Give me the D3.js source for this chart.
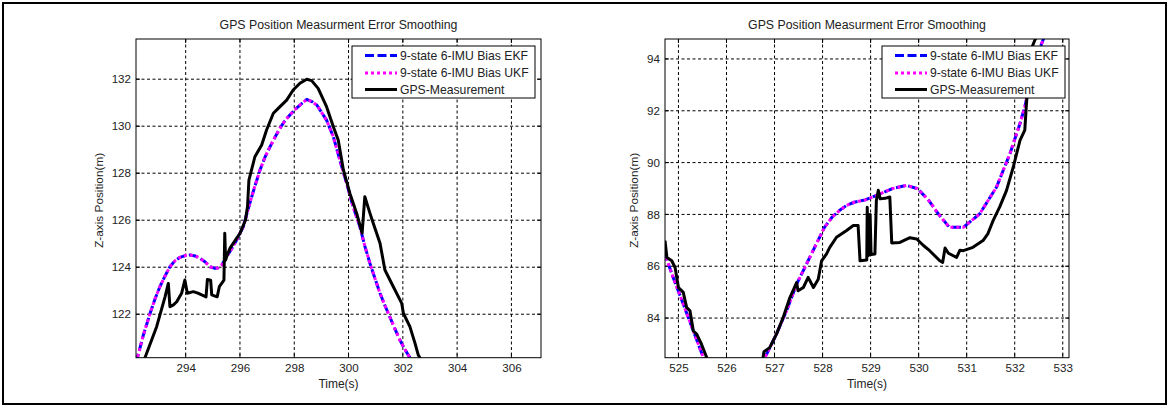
<!DOCTYPE html>
<html><head><meta charset="utf-8">
<script src="https://cdn.jsdelivr.net/npm/d3@7"></script>
<style>
html,body{margin:0;padding:0;background:#fff;}
svg text{font-family:"Liberation Sans",Arial,Helvetica,sans-serif;fill:#222;}
</style></head>
<body><svg id="c" width="1169" height="407"></svg>
<script>
// ---------- data ----------
const titleText = "GPS Position Measurment Error Smoothing";
const xLabelText = "Time(s)";
const yLabelText = "Z-axis Position(m)";
const seriesNames = ["9-state 6-IMU Bias EKF", "9-state 6-IMU Bias UKF", "GPS-Measurement"];

// left panel
const leftXDomain = [292.17, 307.09];
const leftYDomain = [120.15, 133.71];
const leftXTicks = [294, 296, 298, 300, 302, 304, 306];
const leftYTicks = [122, 124, 126, 128, 130, 132];
const leftFilterT = [292.15,292.22,292.45,292.69,292.87,293.05,293.25,293.42,293.6,293.79,294.0,294.16,294.35,294.53,294.72,294.9,295.08,295.2,295.33,295.51,295.7,295.88,296.12,296.37,296.55,296.74,296.92,297.11,297.3,297.47,297.65,297.84,298.02,298.21,298.46,298.65,298.83,299.0,299.19,299.44,299.68,299.93,300.17,300.42,300.6,300.79,300.98,301.16,301.34,301.52,301.7,301.89,302.08,302.26,302.4];
const leftEkfY = [119.95,120.15,121.15,122.04,122.65,123.17,123.65,124.02,124.27,124.42,124.5,124.52,124.48,124.38,124.22,124.02,123.95,123.98,124.09,124.45,124.8,125.16,125.72,126.75,127.45,128.14,128.68,129.13,129.55,129.91,130.22,130.48,130.7,130.9,131.14,131.05,130.9,130.6,130.26,129.55,128.56,127.57,126.57,125.72,124.9,124.16,123.5,122.89,122.37,121.89,121.4,120.9,120.5,120.15,119.8];
const leftUkfY = [119.95,120.15,121.15,122.04,122.65,123.17,123.65,124.02,124.27,124.42,124.5,124.52,124.48,124.38,124.22,124.02,123.95,123.98,124.09,124.45,124.8,125.16,125.72,126.75,127.45,128.14,128.68,129.13,129.55,129.91,130.22,130.48,130.7,130.9,131.14,131.05,130.9,130.6,130.26,129.55,128.56,127.57,126.57,125.72,124.9,124.16,123.5,122.89,122.37,121.89,121.4,120.9,120.5,120.15,119.8];
const leftGpsT = [292.4,292.5,292.93,293.24,293.36,293.42,293.55,293.67,293.85,293.97,294.06,294.28,294.45,294.59,294.75,294.8,294.92,294.96,295.16,295.24,295.41,295.44,295.47,295.51,295.63,295.8,296.0,296.2,296.28,296.33,296.55,296.8,296.98,297.23,297.41,297.72,297.96,298.21,298.46,298.64,298.88,299.19,299.44,299.62,299.81,300.05,300.3,300.5,300.6,300.79,300.91,301.16,301.34,301.65,301.96,302.02,302.26,302.45,302.57,302.7,302.75];
const leftGpsY = [119.8,120.15,121.47,122.74,123.31,122.32,122.4,122.53,122.89,123.45,122.89,122.96,122.9,122.82,122.74,123.48,123.45,122.82,122.74,123.17,123.45,125.44,124.3,124.45,124.8,125.1,125.44,126.0,126.6,127.71,128.7,129.2,129.84,130.55,130.76,131.11,131.54,131.83,132.0,131.94,131.61,130.83,129.98,129.41,128.14,127.14,126.29,125.45,127.0,126.29,125.87,125.02,123.88,123.17,122.46,122.04,121.47,120.76,120.26,120.0,119.8];

// right panel
const rightXDomain = [524.72, 533.13];
const rightYDomain = [82.47, 94.77];
const rightXTicks = [525, 526, 527, 528, 529, 530, 531, 532, 533];
const rightYTicks = [84, 86, 88, 90, 92, 94];
const rightFilterT = [524.7,524.89,525.1,525.31,525.52,525.6,526.72,526.8,527.04,527.25,527.46,527.67,527.88,528.04,528.2,528.35,528.5,528.66,528.89,529.12,529.44,529.75,529.98,530.21,530.41,530.64,530.93,531.27,531.62,531.9,532.11,532.21,532.35,532.5,532.59,532.65];
const rightEkfY = [86.55,85.57,84.54,83.5,82.47,82.1,82.2,82.47,83.38,84.28,85.31,86.1,86.9,87.5,87.9,88.15,88.35,88.47,88.56,88.73,88.99,89.12,88.99,88.54,88.02,87.5,87.5,88.02,89.05,90.34,91.51,92.15,93.3,94.3,94.73,95.0];
const rightUkfY = [86.55,85.57,84.54,83.5,82.47,82.1,82.2,82.47,83.38,84.28,85.31,86.1,86.9,87.5,87.9,88.15,88.35,88.47,88.56,88.73,88.99,89.12,88.99,88.54,88.02,87.5,87.5,88.02,89.05,90.34,91.51,92.15,93.3,94.3,94.73,95.0];
const rightGpsT = [524.72,524.76,524.86,524.93,525.0,525.1,525.17,525.24,525.31,525.38,525.48,525.59,525.65,526.7,526.76,526.78,526.9,527.04,527.18,527.32,527.46,527.49,527.6,527.7,527.81,527.91,527.98,528.08,528.15,528.29,528.5,528.64,528.74,528.78,528.92,528.93,528.95,528.97,528.99,529.01,529.09,529.12,529.16,529.2,529.3,529.4,529.44,529.61,529.82,529.96,530.1,530.23,530.44,530.5,530.55,530.62,530.79,530.86,530.93,531.13,531.34,531.44,531.51,531.55,531.69,531.83,531.97,532.11,532.21,532.24,532.28,532.31,532.42,532.5];
const rightGpsY = [86.99,86.34,86.21,85.95,85.18,84.99,84.41,84.28,83.5,83.38,82.99,82.47,82.1,82.1,82.47,82.7,82.86,83.38,84.02,84.79,85.37,85.05,85.18,85.57,85.18,85.5,86.21,86.47,86.73,87.12,87.38,87.57,87.57,86.21,86.24,88.28,86.4,86.47,88.0,86.45,86.47,88.54,88.93,88.6,88.62,88.67,86.9,86.92,87.1,87.05,86.8,86.6,86.21,86.15,86.7,86.5,86.34,86.62,86.6,86.73,86.99,87.25,87.57,87.76,88.3,88.93,89.83,90.86,91.25,92.15,93.18,94.22,94.73,95.0];

// ---------- drawing ----------
const svg = d3.select("#c");
svg.append("rect").attr("x",3).attr("y",3).attr("width",1163).attr("height",401)
  .attr("fill","none").attr("stroke","#000").attr("stroke-width",2);

const colors = ["#0000ff", "#ff00ff", "#000000"];
const dashes = ["9,3.5", "3,3", null];

function panel(cfg){
  const {x0,x1,y0,y1,xDom,yDom,xTicks,yTicks,fT,ekf,ukf,gT,gps,id,ylx,legX} = cfg;
  const w = x1-x0, h = y1-y0;
  const x = d3.scaleLinear().domain(xDom).range([0,w]);
  const y = d3.scaleLinear().domain(yDom).range([h,0]);
  const g = svg.append("g").attr("transform",`translate(${x0},${y0})`);
  g.append("rect").attr("width",w).attr("height",h).attr("fill","#fff");
  // grid
  g.append("g").selectAll("line").data(xTicks).join("line")
    .attr("x1",d=>x(d)).attr("x2",d=>x(d)).attr("y1",0).attr("y2",h)
    .attr("stroke","#000").attr("stroke-width",1).attr("stroke-dasharray","3,2.5");
  g.append("g").selectAll("line").data(yTicks).join("line")
    .attr("y1",d=>y(d)).attr("y2",d=>y(d)).attr("x1",0).attr("x2",w)
    .attr("stroke","#000").attr("stroke-width",1).attr("stroke-dasharray","3,2.5");
  // inward ticks
  const tk = g.append("g").attr("stroke","#000").attr("stroke-width",1);
  xTicks.forEach(d=>{
    tk.append("line").attr("x1",x(d)).attr("x2",x(d)).attr("y1",h).attr("y2",h-4);
    tk.append("line").attr("x1",x(d)).attr("x2",x(d)).attr("y1",0).attr("y2",4);
  });
  yTicks.forEach(d=>{
    tk.append("line").attr("y1",y(d)).attr("y2",y(d)).attr("x1",0).attr("x2",4);
    tk.append("line").attr("y1",y(d)).attr("y2",y(d)).attr("x1",w).attr("x2",w-4);
  });
  // axes labels
  const ax = g.append("g").attr("transform",`translate(0,${h})`)
    .call(d3.axisBottom(x).tickValues(xTicks).tickSize(0).tickPadding(6).tickFormat(d3.format("d")));
  ax.select(".domain").remove();
  ax.selectAll("text").attr("font-size",11.6).attr("fill","#222");
  const ay = g.append("g")
    .call(d3.axisLeft(y).tickValues(yTicks).tickSize(0).tickPadding(5).tickFormat(d3.format("d")));
  ay.select(".domain").remove();
  ay.selectAll("text").attr("font-size",11.6).attr("fill","#222");
  // lines
  svg.append("clipPath").attr("id",id).append("rect").attr("width",w).attr("height",h);
  const lg = g.append("g").attr("clip-path",`url(#${id})`);
  const line = d3.line().x(d=>x(d[0])).y(d=>y(d[1]));
  const sets = [d3.zip(fT,ekf), d3.zip(fT,ukf), d3.zip(gT,gps)];
  sets.forEach((s,i)=>{
    lg.append("path").attr("d",line(s)).attr("fill","none").attr("stroke",colors[i])
      .attr("stroke-width",3).attr("stroke-dasharray",dashes[i]).attr("stroke-linejoin","round");
  });
  // box
  g.append("rect").attr("width",w).attr("height",h).attr("fill","none").attr("stroke","#000").attr("stroke-width",1);
  // title, labels
  svg.append("text").attr("x",x0+w/2).attr("y",29).attr("text-anchor","middle").attr("font-size",12.3).text(titleText);
  svg.append("text").attr("x",x0+w/2).attr("y",388).attr("text-anchor","middle").attr("font-size",12).text(xLabelText);
  svg.append("text").attr("transform",`translate(${ylx},${y0+h/2+2}) rotate(-90)`).attr("text-anchor","middle").attr("font-size",11.8).text(yLabelText);
  // legend
  const L = svg.append("g").attr("transform",`translate(${legX},46)`);
  L.append("rect").attr("width",183).attr("height",52).attr("fill","#fff").attr("stroke","#000").attr("stroke-width",1);
  const rows = [9.5, 27, 43.5];
  seriesNames.forEach((n,i)=>{
    L.append("line").attr("x1",13).attr("x2",45).attr("y1",rows[i]).attr("y2",rows[i])
      .attr("stroke",colors[i]).attr("stroke-width",3).attr("stroke-dasharray",dashes[i]);
    L.append("text").attr("x",48).attr("y",rows[i]).attr("dy","0.35em").attr("font-size",12.2).text(n);
  });
}

panel({x0:136,x1:541,y0:39,y1:357.7,xDom:leftXDomain,yDom:leftYDomain,xTicks:leftXTicks,yTicks:leftYTicks,
  fT:leftFilterT,ekf:leftEkfY,ukf:leftUkfY,gT:leftGpsT,gps:leftGpsY,id:"clipL",ylx:103,legX:352});
panel({x0:665,x1:1069,y0:39,y1:357.7,xDom:rightXDomain,yDom:rightYDomain,xTicks:rightXTicks,yTicks:rightYTicks,
  fT:rightFilterT,ekf:rightEkfY,ukf:rightUkfY,gT:rightGpsT,gps:rightGpsY,id:"clipR",ylx:638,legX:882});
</script></body></html>
